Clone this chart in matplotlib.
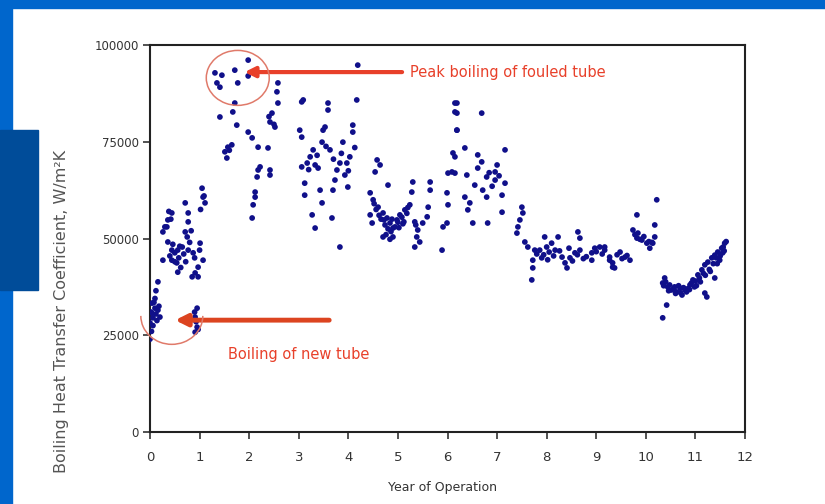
import numpy as np
import matplotlib
matplotlib.use("Agg")
import matplotlib.pyplot as plt
from matplotlib.patches import Rectangle, Arc

plt.rcParams['font.family'] = ['DejaVu Sans']

# -------------------------
# Data (year, W/m2K)
# -------------------------
yr_new = [0.04, 0.10, 0.04, 0.16, 0.06, 0.00, 0.20, 0.02, 0.08, 0.12, 0.14, 0.06, 0.18, 0.10,
          0.03, 0.00, 0.91, 0.95, 0.91, 0.95, 0.90, 0.93, 0.97]
htc_new = [33300, 32000, 30700, 31500, 29500, 28200, 29700, 31000, 33500, 30500, 28800, 27500,
           32500, 34500, 26000, 24000, 29700, 27100, 25800, 32000, 31000, 28500, 26500]

yr_first = [1.05, 1.07, 1.11, 0.71, 0.77, 0.77, 0.44, 0.36, 0.34, 0.26, 0.71, 0.75, 1.01, 0.36,
            0.44, 0.50, 0.56, 0.65, 0.77, 0.87, 0.26, 0.44, 0.54, 1.07, 0.97, 0.91, 0.85, 0.97,
            0.56, 0.16, 0.40, 0.46, 0.50, 0.58, 0.60, 0.62, 0.68, 0.72, 0.80, 0.83, 0.90, 1.00,
            1.02, 1.09, 0.30, 0.38, 0.42, 0.12]
htc_first = [63000, 60700, 59200, 59200, 56600, 54300, 56600, 54800, 53000, 51700, 51700, 50400,
             48800, 49100, 47000, 46300, 47000, 47800, 47000, 46300, 44400, 44400, 43700, 44400,
             42600, 41100, 40100, 40100, 41300, 38800, 45500, 48500, 44000, 45000, 48000, 42500,
             46000, 44000, 49000, 52000, 45000, 47000, 57500, 61000, 53000, 57000, 55000, 36500]

yr_peak = [1.98, 1.31, 1.45, 1.71, 1.77, 1.35, 1.41, 1.98, 2.58, 2.56, 2.58, 1.71, 1.67, 1.41,
           1.75, 2.46, 2.42, 2.52, 1.98, 2.06, 1.57, 1.51, 1.55, 1.65, 2.18, 2.38, 2.18, 2.16,
           2.22, 2.42, 2.42, 2.12, 2.12, 2.08, 2.06, 1.60, 2.50, 2.40]
htc_peak = [96100, 92800, 92200, 93500, 90200, 90200, 89100, 92000, 90200, 87900, 85000, 85000,
            82700, 81400, 79300, 82400, 80100, 78800, 77500, 76000, 73600, 72400, 70800, 74200,
            73600, 73400, 67700, 65900, 68500, 67700, 66400, 62000, 60700, 58700, 55300, 72800,
            79500, 81500]

yr_mid = [4.19, 3.09, 3.59, 3.59, 4.17, 3.53, 3.49, 4.09, 4.09, 3.89, 3.47, 3.63, 3.29, 3.23,
          3.17, 3.33, 3.39, 3.06, 3.02, 3.06, 4.03, 3.97, 3.83, 3.77, 3.73, 3.69, 3.93, 3.99,
          3.12, 3.12, 3.43, 3.47, 3.27, 3.33, 3.67, 3.83, 3.06, 3.55, 3.70, 3.86, 4.00, 4.13,
          3.20, 3.37]
htc_mid = [94800, 85800, 85000, 83200, 85800, 78800, 78000, 79300, 77500, 74900, 74900, 72900,
           72900, 71100, 69500, 69000, 68200, 68500, 78000, 76200, 71100, 69500, 69500, 67700,
           65100, 62500, 66400, 63300, 64300, 61200, 62500, 59200, 56100, 52700, 55300, 47800,
           85300, 73800, 70500, 72000, 67500, 73500, 67800, 71500]

yr_v = [4.58, 4.64, 4.54, 4.80, 4.44, 4.50, 4.60, 4.70, 4.78, 4.84, 4.90, 4.44, 4.48, 4.70,
        4.90, 4.98, 5.04, 5.14, 5.24, 5.30, 5.28, 5.34, 5.40, 5.38, 5.34, 5.65, 5.65, 5.61,
        5.59, 5.50, 5.44, 5.91, 5.99, 5.89, 6.01, 5.99, 6.01, 6.09, 6.11, 4.56, 4.62, 4.66,
        4.74, 4.80, 4.86, 4.94, 5.00, 5.08, 5.18, 5.20, 4.52, 4.76, 4.84, 5.10, 5.36, 4.72,
        4.88, 5.02, 5.12]
htc_v = [70300, 69000, 67200, 63800, 61800, 60000, 58100, 56600, 55300, 54000, 52700, 56100,
         54000, 50400, 50400, 54800, 56100, 57400, 58700, 64600, 62000, 54300, 52200, 50400,
         47800, 64600, 62500, 58100, 55600, 54000, 49100, 53000, 54000, 47000, 58700, 61800,
         66900, 67200, 72100, 57500, 56000, 55000, 53500, 52500, 51800, 53000, 54200, 55500,
         56500, 58000, 59000, 51000, 49800, 53800, 53500, 54800, 55000, 52800, 54300]

yr_six = [6.15, 6.15, 6.19, 6.69, 6.35, 7.16, 6.61, 6.69, 6.15, 6.61, 7.00, 6.96, 6.39, 6.15,
          6.79, 6.96, 7.16, 6.55, 6.71, 7.10, 6.35, 6.45, 6.79, 6.41, 7.10, 6.51, 6.81, 6.19,
          6.19, 6.19, 6.84, 6.90, 7.04]
htc_six = [85000, 82700, 78000, 82400, 73400, 72900, 71600, 69800, 71100, 68200, 69000, 67200,
           66400, 66900, 65900, 65100, 64300, 63800, 62500, 61200, 60700, 59200, 60700, 57400,
           56800, 54000, 54000, 85000, 82400, 78000, 67000, 63500, 66200]

yr_band = [7.50, 7.52, 7.46, 7.42, 7.40, 7.56, 7.62, 7.76, 7.72, 7.72, 7.70, 7.96, 8.23, 8.63,
           8.67, 7.86, 8.00, 8.10, 8.17, 7.90, 8.31, 8.37, 8.41, 8.47, 8.57, 8.67, 8.91, 8.97,
           9.07, 9.17, 8.91, 9.27, 9.33, 9.17, 9.27, 9.33, 9.37, 9.48, 9.58, 9.68, 10.22, 9.82,
           10.18, 9.74, 9.84, 9.82, 9.92, 10.02, 10.08, 10.18, 10.14, 7.80, 7.94, 8.05, 8.14,
           8.26, 8.52, 8.62, 8.74, 8.80, 9.00, 9.12, 9.42, 9.52, 9.62, 9.78, 9.88, 9.96, 10.06,
           10.12, 8.45, 8.02]
htc_band = [58100, 56600, 54800, 53000, 51400, 49100, 47800, 47000, 44400, 42400, 39300, 50400,
            50400, 51700, 50100, 47000, 47800, 48800, 47000, 45000, 45200, 43700, 42400, 45000,
            46300, 47000, 46300, 47500, 47800, 47000, 44400, 44400, 42600, 47800, 45200, 43700,
            42400, 46500, 45200, 44400, 60000, 56100, 53500, 52200, 51400, 50100, 49600, 48800,
            47500, 50400, 48800, 46000, 45800, 46500, 45500, 46800, 44200, 45800, 44800, 45300,
            46600, 46000, 45800, 44800, 45600, 51000, 49800, 50500, 49200, 49000, 47500, 44500]

yr_last = [10.38, 10.34, 10.44, 10.52, 10.62, 10.73, 10.79, 10.89, 10.95, 11.05, 11.13, 11.19,
           11.25, 11.33, 11.39, 11.45, 11.53, 11.59, 11.55, 11.49, 11.39, 11.19, 11.23, 10.42,
           10.34, 10.58, 10.69, 10.40, 10.48, 10.56, 10.66, 10.76, 10.84, 10.92, 11.00, 11.08,
           11.16, 11.28, 11.36, 11.42, 11.50, 11.58, 11.62, 10.36, 10.46, 10.60, 10.70, 10.82,
           10.98, 11.10, 11.30, 11.44, 11.56, 10.88, 11.02, 11.20]
htc_last = [39800, 38500, 37500, 36700, 36200, 35400, 36700, 38000, 39300, 40600, 41900, 43200,
            43900, 45000, 45700, 46500, 47500, 48800, 46300, 44400, 39800, 35900, 34900, 32800,
            29500, 37500, 37200, 38800, 38000, 37000, 37800, 37300, 37000, 38500, 39000, 39800,
            41000, 42000, 43500, 45000, 45500, 46800, 49200, 37800, 36500, 35800, 36000, 36200,
            37500, 38800, 41500, 43500, 47800, 36800, 37800, 40500]

years = np.concatenate([yr_new, yr_first, yr_peak, yr_mid, yr_v, yr_six, yr_band, yr_last])
htc = np.concatenate([htc_new, htc_first, htc_peak, htc_mid, htc_v, htc_six, htc_band, htc_last])

# -------------------------
# Figure / slide background
# -------------------------
fig = plt.figure(figsize=(8.25, 5.04), dpi=100)
fig.patch.set_facecolor('white')
slide_blue = '#0066cc'
fig.patches.append(Rectangle((0, 1 - 8/504), 1, 8/504, transform=fig.transFigure,
                             color=slide_blue, zorder=0))
fig.patches.append(Rectangle((0, 0), 12/825, 1, transform=fig.transFigure,
                             color=slide_blue, zorder=0))
fig.patches.append(Rectangle((0, 1 - 290/504), 38/825, 160/504, transform=fig.transFigure,
                             color='#004c99', zorder=0))

ax = fig.add_axes([150/825, 1 - 432/504, 595/825, 387/504])
ax.scatter(years, htc, s=17, color='#10108a', edgecolors='none', zorder=3)

ax.set_xlim(0, 12)
ax.set_ylim(0, 100000)
ax.set_xticks(range(0, 13))
ax.set_yticks([0, 25000, 50000, 75000, 100000])
ax.set_yticklabels(['0', '25000', '50000', '75000', '100000'])
ax.tick_params(direction='out', length=5, width=1.2, colors='#333333')
ax.tick_params(axis='y', labelsize=8.5, pad=3)
ax.tick_params(axis='x', labelsize=9.5, pad=9)
for sp in ax.spines.values():
    sp.set_linewidth(1.5)
    sp.set_color('#222222')

fig.text(442/825, 1 - 488/504, 'Year of Operation', ha='center', va='center',
         fontsize=9, color='#333333')
fig.text(62/825, 1 - 311/504, 'Boiling Heat Transfer Coefficient, W/m\u00b2K', ha='center',
         va='center', rotation=90, fontsize=11.5, color='#555555')

# -------------------------
# Annotations
# -------------------------
red = '#e8402a'
ax.annotate('', xy=(1.85, 93000), xytext=(5.14, 93000),
            arrowprops=dict(arrowstyle='-|>,head_length=0.6,head_width=0.3', color=red, lw=3))
ax.text(5.24, 93000, 'Peak boiling of fouled tube', color=red, fontsize=10.5,
        va='center', ha='left')
ax.annotate('', xy=(0.45, 28900), xytext=(3.67, 28900),
            arrowprops=dict(arrowstyle='-|>,head_length=0.7,head_width=0.35', color='#dc4420', lw=3.5))
ax.text(1.57, 19900, 'Boiling of new tube', color=red, fontsize=10.5, va='center', ha='left')

ax.add_patch(Arc((1.77, 91500), 1.27, 14200, theta1=80, theta2=420, color='#e07a6a',
                 lw=1.1, clip_on=False, zorder=4))
ax.add_patch(Arc((0.44, 30000), 1.25, 14700, theta1=115, theta2=400, color='#e07a6a',
                 lw=1.1, clip_on=False, zorder=4))
ax.add_patch(Arc((0.44, 30000), 1.25, 14700, theta1=40, theta2=65, color='#e07a6a',
                 lw=1.1, clip_on=False, zorder=4))

fig.savefig('out.png', dpi=100, facecolor=fig.get_facecolor())
